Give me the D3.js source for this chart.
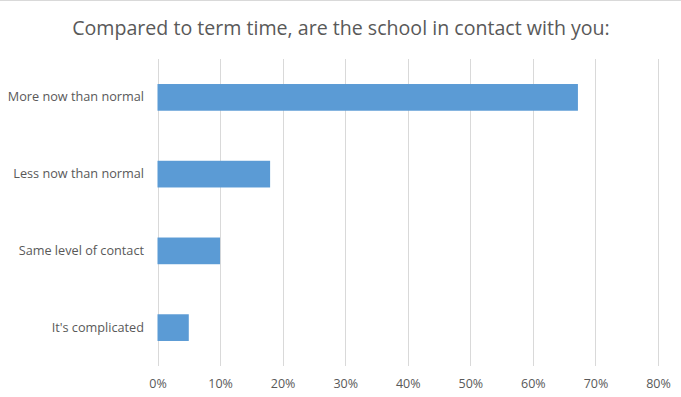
<!DOCTYPE html>
<html><head><meta charset="utf-8">
<script src="https://cdn.jsdelivr.net/npm/d3@7"></script>
<style>body{margin:0;background:#fff;} svg{display:block;}</style>
</head><body>
<svg id="c" width="681" height="397"></svg>
<script>
const categories = ["More now than normal","Less now than normal","Same level of contact","It's complicated"];
const values = [0.672, 0.18, 0.10, 0.05];
const ticks = [0,0.1,0.2,0.3,0.4,0.5,0.6,0.7,0.8];
const title = "Compared to term time, are the school in contact with you:";

const svg = d3.select("#c");
const font = "'Open Sans', sans-serif";
svg.append("rect").attr("width",681).attr("height",397).attr("fill","#fff");
svg.append("line").attr("x1",0).attr("x2",681).attr("y1",0.5).attr("y2",0.5).attr("stroke","#d9d9d9");

const x = d3.scaleLinear().domain([0,0.8]).range([157.5,658]);
const y = d3.scaleBand().domain(categories).range([59,366]).paddingInner(0.652).paddingOuter(0.326);

svg.append("text").attr("x",341).attr("y",35).attr("text-anchor","middle")
  .attr("font-family",font).attr("font-size",19.6).attr("fill","#595959").text(title);

const grid = svg.append("g");
grid.selectAll("line").data(ticks).join("line")
  .attr("x1",d=>Math.round(x(d))+0.5).attr("x2",d=>Math.round(x(d))+0.5)
  .attr("y1",59).attr("y2",366).attr("stroke","#d9d9d9").attr("stroke-width",1);

svg.append("g").selectAll("rect").data(categories).join("rect")
  .attr("x",x(0)).attr("y",d=>y(d)).attr("height",y.bandwidth())
  .attr("width",(d,i)=>x(values[i])-x(0)).attr("fill","#5B9BD5");

const xAxis = d3.axisBottom(x).tickValues(ticks).tickFormat(d3.format(".0%")).tickSize(0).tickPadding(0);
const gx = svg.append("g").attr("transform","translate(0,388)").call(xAxis);
gx.select(".domain").remove();
gx.selectAll("text").attr("font-family",font).attr("font-size",12.5).attr("fill","#595959").attr("dy",0);

const yAxis = d3.axisLeft(y).tickSize(0).tickPadding(0);
const gy = svg.append("g").attr("transform","translate(144,0)").call(yAxis);
gy.select(".domain").remove();
gy.selectAll("text").attr("font-family",font).attr("font-size",12.7).attr("fill","#595959");
</script>
</body></html>
